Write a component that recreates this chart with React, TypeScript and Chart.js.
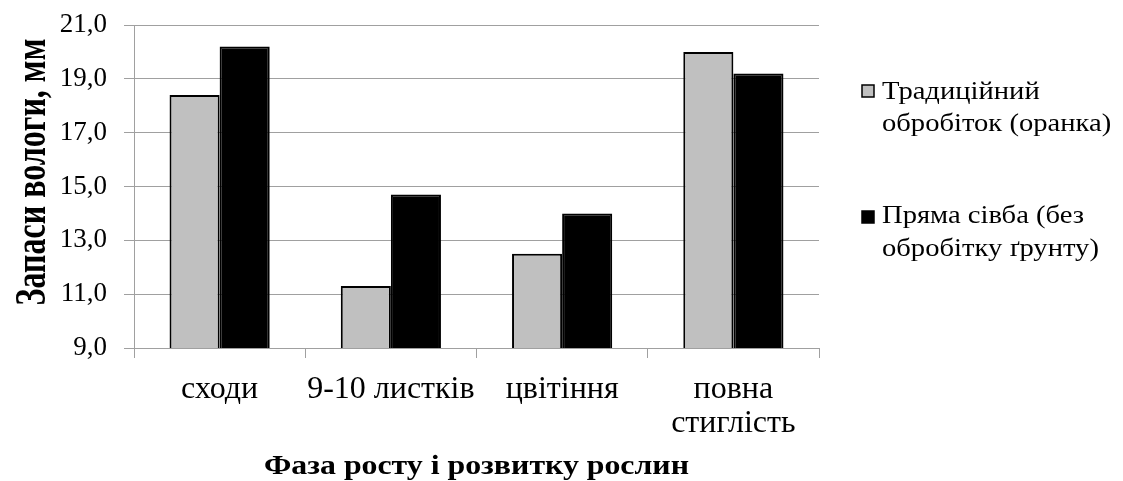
import React, { useEffect, useRef } from 'react';
import { Chart, registerables } from 'chart.js';

Chart.register(...registerables);

const categories: string[][] = [['сходи'], ['9-10 листків'], ['цвітіння'], ['повна', 'стиглість']];
const traditional: number[] = [18.4, 11.3, 12.5, 20.0];
const directSowing: number[] = [20.2, 14.7, 14.0, 19.2];
const seriesNames: string[][] = [
  ['Традиційний', 'обробіток (оранка)'],
  ['Пряма сівба (без', 'обробітку ґрунту)'],
];
const yMin = 9;
const yMax = 21;
const yStep = 2;
const yTitle = 'Запаси вологи, мм';
const xTitle = 'Фаза росту і розвитку рослин';

const W = 1123;
const H = 481;
const FONT = '"Liberation Serif", "Times New Roman", serif';

function fitText(ctx: CanvasRenderingContext2D, text: string, x: number, y: number, targetWidth: number) {
  const w = ctx.measureText(text).width;
  const sx = targetWidth / w;
  ctx.save();
  ctx.translate(x, y);
  ctx.scale(sx, 1);
  ctx.textAlign = 'left';
  ctx.fillText(text, -w / 2, 0);
  ctx.restore();
}

const customText = {
  id: 'customText',
  afterDraw(chart: any) {
    const ctx = chart.ctx as CanvasRenderingContext2D;
    const area = chart.chartArea;
    ctx.save();
    ctx.fillStyle = '#000';
    ctx.textBaseline = 'alphabetic';

    // Y axis title (tall, condensed bold)
    ctx.font = `bold 44px ${FONT}`;
    ctx.save();
    ctx.translate(45, 172);
    ctx.rotate(-Math.PI / 2);
    fitText(ctx, yTitle, 0, 0, 267);
    ctx.restore();

    // X axis title
    ctx.font = `bold 28px ${FONT}`;
    fitText(ctx, xTitle, (area.left + area.right) / 2, 474, 425);

    // Legend
    ctx.font = `26px ${FONT}`;
    const x0 = area.right + 43;
    const baselines = [[99, 131], [223, 256]];
    const boxes = [85, 211];
    chart.data.datasets.forEach((ds: any, i: number) => {
      const by = boxes[i];
      ctx.fillStyle = ds.backgroundColor;
      ctx.fillRect(x0, by, 12, 12);
      ctx.strokeStyle = '#000';
      ctx.lineWidth = 1.5;
      ctx.strokeRect(x0, by, 12, 12);
      ctx.fillStyle = '#000';
      seriesNames[i].forEach((line, j) => {
        ctx.save();
        ctx.translate(x0 + 20, baselines[i][j]);
        ctx.scale(1.1, 1);
        ctx.textAlign = 'left';
        ctx.fillText(line, 0, 0);
        ctx.restore();
      });
    });
    ctx.restore();
  },
};

export default function App() {
  const ref = useRef<HTMLCanvasElement | null>(null);

  useEffect(() => {
    document.body.style.margin = '0';
    const canvas = ref.current;
    if (!canvas) return;
    const chart = new Chart(canvas, {
      type: 'bar',
      data: {
        labels: categories,
        datasets: [
          {
            label: seriesNames[0].join(' '),
            data: traditional,
            backgroundColor: '#c0c0c0',
            borderColor: '#000',
            borderWidth: 2,
            borderSkipped: false,
          },
          {
            label: seriesNames[1].join(' '),
            data: directSowing,
            backgroundColor: '#000000',
            borderColor: '#000',
            borderWidth: 2,
            borderSkipped: false,
          },
        ],
      },
      options: {
        responsive: false,
        animation: false,
        devicePixelRatio: 1,
        layout: { padding: { top: 25, right: W - 819, bottom: 0, left: 0 } },
        datasets: { bar: { categoryPercentage: 0.585, barPercentage: 1 } },
        plugins: {
          legend: { display: false },
          tooltip: { enabled: false },
        },
        scales: {
          x: {
            grid: {
              drawOnChartArea: false,
              color: '#a0a0a0',
              tickLength: 10,
              offset: true,
            },
            border: { color: '#a0a0a0', width: 1 },
            ticks: {
              color: '#000',
              font: { family: FONT, size: 32, lineHeight: 1.06 },
              padding: 15,
              maxRotation: 0,
              minRotation: 0,
              autoSkip: false,
            },
            afterFit: (scale: any) => {
              scale.height = H - 348;
              scale.paddingLeft = 0;
              scale.paddingRight = 0;
            },
          },
          y: {
            min: yMin,
            max: yMax,
            grid: { color: '#a0a0a0', tickLength: 10 },
            border: { color: '#a0a0a0', width: 1 },
            ticks: {
              stepSize: yStep,
              color: '#000',
              font: { family: FONT, size: 27 },
              padding: 17,
              callback: (v: any) => Number(v).toFixed(1).replace('.', ','),
            },
            afterFit: (scale: any) => {
              scale.width = 134;
              scale.paddingTop = 0;
              scale.paddingBottom = 0;
            },
          },
        },
      },
      plugins: [customText],
    });
    return () => chart.destroy();
  }, []);

  return (
    <div style={{ width: W, height: H, background: '#fff' }}>
      <canvas ref={ref} width={W} height={H} style={{ display: 'block' }} />
    </div>
  );
}
